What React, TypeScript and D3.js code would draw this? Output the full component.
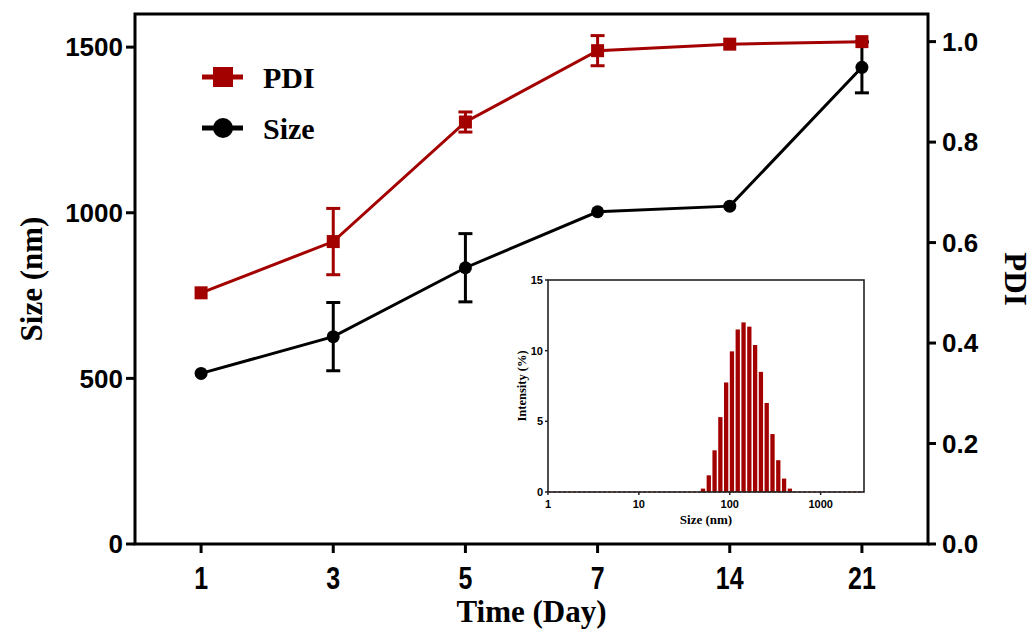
import React from "react";
import * as d3 from "d3";

// Main series: particle size and PDI over storage time
const days = ["1", "3", "5", "7", "14", "21"];
const sizeMean = [515, 626, 834, 1003, 1020, 1439];
const sizeErr = [0, 103, 103, 0, 0, 77];
const pdiMean = [0.5, 0.602, 0.84, 0.982, 0.995, 1.0];
const pdiErr = [0, 0.066, 0.02, 0.03, 0, 0];

const sizeTicks = [0, 500, 1000, 1500];
const pdiTicks = [0, 0.2, 0.4, 0.6, 0.8, 1.0];

// Inset: DLS intensity distribution
const binSizes = [50.75, 58.77, 68.06, 78.82, 91.28, 105.7, 122.4, 141.8, 164.2, 190.1, 220.2, 255.0, 295.3, 342.0, 396.1, 458.7];
const binIntensity = [0.24, 1.18, 2.95, 5.3, 7.75, 9.95, 11.5, 12.0, 11.7, 10.4, 8.5, 6.3, 4.1, 2.25, 0.95, 0.24];
const insetXTicks = [1, 10, 100, 1000];
const insetYTicks = [0, 5, 10, 15];

const RED = "#a30000";
const SANS = "'Liberation Sans', Arial, sans-serif";
const SERIF = "'Liberation Serif', 'Times New Roman', serif";

export default function App() {
  const W = 1032, H = 633;
  const left = 135, right = 928, top = 14, bottom = 544;

  const x = d3.scalePoint<string>().domain(days).range([left, right]).padding(0.5);
  const yL = d3.scaleLinear().domain([0, 1600]).range([bottom, top]);
  const yR = d3.scaleLinear().domain([0, 1.055]).range([bottom, top]);

  const sizeLine = d3.line<number>().x((_, i) => x(days[i])!).y((d) => yL(d));
  const pdiLine = d3.line<number>().x((_, i) => x(days[i])!).y((d) => yR(d));

  // inset geometry
  const iL = 548, iR = 864, iT = 280, iB = 492;
  const ix = d3.scaleLog().domain([1, 3000]).range([iL, iR]);
  const iy = d3.scaleLinear().domain([0, 15]).range([iB, iT]);
  const binStep = Math.log10(binSizes[1] / binSizes[0]);
  const barW = (ix(Math.pow(10, binStep)) - ix(1)) * 0.74;

  const cap = 7;
  const mk = 6.5;

  return (
    <svg width={W} height={H} style={{ position: "absolute", left: 0, top: 0, background: "#fff" }}>
      <rect x={0} y={0} width={W} height={H} fill="#fff" />

      {/* frame */}
      <rect x={left} y={top} width={right - left} height={bottom - top} fill="none" stroke="#000" strokeWidth={3} />

      {/* left axis */}
      {sizeTicks.map((t) => (
        <g key={"l" + t}>
          <line x1={left - 9} x2={left} y1={yL(t)} y2={yL(t)} stroke="#000" strokeWidth={3} />
          <text x={left - 12} y={yL(t)} dy="0.36em" textAnchor="end" fontFamily={SANS} fontWeight="bold" fontSize={26}>
            {t}
          </text>
        </g>
      ))}
      <text
        transform={`translate(42,${(top + bottom) / 2}) rotate(-90)`}
        textAnchor="middle"
        fontFamily={SERIF}
        fontWeight="bold"
        fontSize={31}
      >
        Size (nm)
      </text>

      {/* right axis */}
      {pdiTicks.map((t) => (
        <g key={"r" + t}>
          <line x1={right} x2={right + 8} y1={yR(t)} y2={yR(t)} stroke="#000" strokeWidth={3} />
          <text x={right + 14} y={yR(t)} dy="0.36em" textAnchor="start" fontFamily={SANS} fontWeight="bold" fontSize={26}>
            {d3.format(".1f")(t)}
          </text>
        </g>
      ))}
      <text
        transform={`translate(1005,${(top + bottom) / 2}) rotate(90)`}
        textAnchor="middle"
        fontFamily={SERIF}
        fontWeight="bold"
        fontSize={31}
      >
        PDI
      </text>

      {/* bottom axis */}
      {days.map((d) => (
        <g key={"b" + d}>
          <line x1={x(d)!} x2={x(d)!} y1={bottom} y2={bottom + 9} stroke="#000" strokeWidth={3} />
          <text
            transform={`translate(${x(d)},589) scale(0.78,1)`}
            textAnchor="middle"
            fontFamily={SANS}
            fontWeight="bold"
            fontSize={32}
          >
            {d}
          </text>
        </g>
      ))}
      <text x={(left + right) / 2} y={622} textAnchor="middle" fontFamily={SERIF} fontWeight="bold" fontSize={31}>
        Time (Day)
      </text>

      {/* Size series */}
      <path d={sizeLine(sizeMean)!} fill="none" stroke="#000" strokeWidth={3} />
      {sizeMean.map((v, i) =>
        sizeErr[i] > 0 ? (
          <g key={"se" + i} stroke="#000" strokeWidth={3}>
            <line x1={x(days[i])!} x2={x(days[i])!} y1={yL(v - sizeErr[i])} y2={yL(v + sizeErr[i])} />
            <line x1={x(days[i])! - cap} x2={x(days[i])! + cap} y1={yL(v - sizeErr[i])} y2={yL(v - sizeErr[i])} />
            <line x1={x(days[i])! - cap} x2={x(days[i])! + cap} y1={yL(v + sizeErr[i])} y2={yL(v + sizeErr[i])} />
          </g>
        ) : null
      )}
      {sizeMean.map((v, i) => (
        <circle key={"sc" + i} cx={x(days[i])!} cy={yL(v)} r={mk} fill="#000" />
      ))}

      {/* PDI series */}
      <path d={pdiLine(pdiMean)!} fill="none" stroke={RED} strokeWidth={3} />
      {pdiMean.map((v, i) =>
        pdiErr[i] > 0 ? (
          <g key={"pe" + i} stroke={RED} strokeWidth={3}>
            <line x1={x(days[i])!} x2={x(days[i])!} y1={yR(v - pdiErr[i])} y2={yR(v + pdiErr[i])} />
            <line x1={x(days[i])! - cap} x2={x(days[i])! + cap} y1={yR(v - pdiErr[i])} y2={yR(v - pdiErr[i])} />
            <line x1={x(days[i])! - cap} x2={x(days[i])! + cap} y1={yR(v + pdiErr[i])} y2={yR(v + pdiErr[i])} />
          </g>
        ) : null
      )}
      {pdiMean.map((v, i) => (
        <rect key={"pm" + i} x={x(days[i])! - mk} y={yR(v) - mk} width={mk * 2} height={mk * 2} fill={RED} />
      ))}

      {/* legend */}
      <g>
        <line x1={202} x2={243} y1={77} y2={77} stroke={RED} strokeWidth={5} />
        <rect x={213} y={67} width={20} height={20} fill={RED} />
        <text x={263} y={88} fontFamily={SERIF} fontWeight="bold" fontSize={30}>PDI</text>
        <line x1={202} x2={243} y1={128} y2={128} stroke="#000" strokeWidth={5} />
        <circle cx={223} cy={128} r={10} fill="#000" />
        <text x={263} y={139} fontFamily={SERIF} fontWeight="bold" fontSize={30}>Size</text>
      </g>

      {/* inset */}
      <g>
        <rect x={iL} y={iT} width={iR - iL} height={iB - iT} fill="#fff" />
        <line x1={iL} x2={iR} y1={iy(0)} y2={iy(0)} stroke={RED} strokeWidth={1.2} strokeDasharray="3,2" />
        {binSizes.map((s, i) => (
          <rect
            key={"bin" + i}
            x={ix(s) - barW / 2}
            y={iy(binIntensity[i])}
            width={barW}
            height={iy(0) - iy(binIntensity[i])}
            fill={RED}
          />
        ))}
        <rect x={iL} y={iT} width={iR - iL} height={iB - iT} fill="none" stroke="#222" strokeWidth={1.6} />
        {insetYTicks.map((t) => (
          <g key={"iy" + t}>
            <line x1={iL - 3} x2={iL} y1={iy(t)} y2={iy(t)} stroke="#222" strokeWidth={1.5} />
            <text x={iL - 5} y={iy(t)} dy="0.36em" textAnchor="end" fontFamily={SANS} fontWeight="bold" fontSize={11}>
              {t}
            </text>
          </g>
        ))}
        {insetXTicks.map((t) => (
          <g key={"ix" + t}>
            <line x1={ix(t)} x2={ix(t)} y1={iB} y2={iB + 3} stroke="#222" strokeWidth={1.5} />
            <text x={ix(t)} y={iB + 16} textAnchor="middle" fontFamily={SANS} fontWeight="bold" fontSize={11}>
              {t}
            </text>
          </g>
        ))}
        <text x={(iL + iR) / 2} y={524} textAnchor="middle" fontFamily={SERIF} fontWeight="bold" fontSize={13}>
          Size (nm)
        </text>
        <text
          transform={`translate(526,${(iT + iB) / 2}) rotate(-90)`}
          textAnchor="middle"
          fontFamily={SERIF}
          fontWeight="bold"
          fontSize={12.5}
        >
          Intensity (%)
        </text>
      </g>
    </svg>
  );
}
